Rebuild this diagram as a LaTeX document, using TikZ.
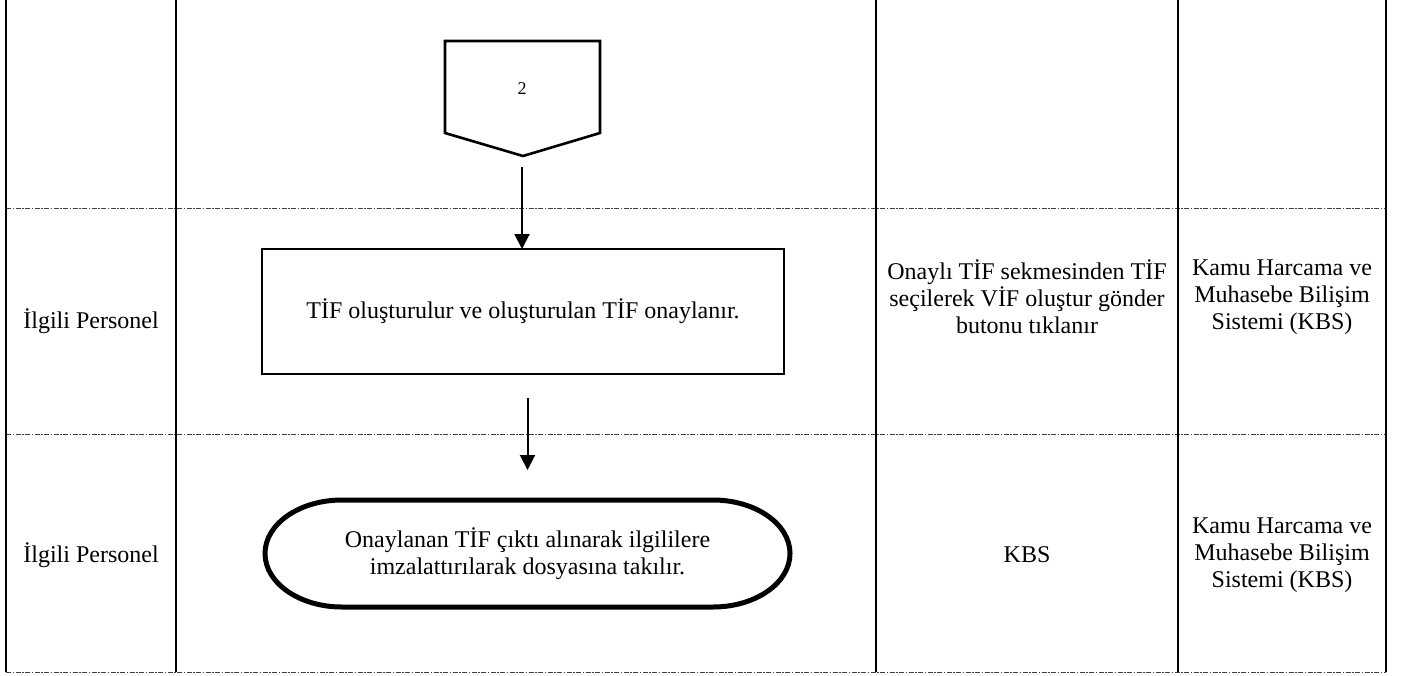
\documentclass[tikz,border=0pt]{standalone}
\usepackage{fontspec}
\setmainfont{Liberation Serif}
\usetikzlibrary{arrows.meta,calc}
\begin{document}
\begin{tikzpicture}[x=1pt,y=-1pt,
  lane/.style={line width=2.8pt},
  sep/.style={line width=1pt, black!75, dash pattern=on 5pt off 1.5pt on 1.5pt off 1.5pt},
  lbl/.style={font=\fontsize{24}{27}\selectfont, align=center, inner sep=0pt, outer sep=0pt},
  procbox/.style={draw, line width=2.8pt, minimum width=522pt, minimum height=125pt, lbl},
  flow/.style={line width=2pt, -{Triangle[width=15pt,length=15pt]}},
]
\useasboundingbox (0,0) rectangle (1404,675);

% table lines
\draw[sep] (6,208) -- (1386,208);
\draw[sep] (6,434) -- (1386,434);
\draw[sep] (6,672) -- (1386,672);
\foreach \x in {6,176,876,1178,1386} \draw[lane] (\x,0) -- (\x,672);

% off-page connector
\draw[line width=2.6pt, line join=miter] (445,41) -- (600,41) -- (600,133) -- (523,156) -- (445,133) -- cycle;
\node[font=\fontsize{18}{20}\selectfont] (conn) at (522,89) {2};
\coordinate (conntip) at (522,156);

% process box
\node[procbox] (proc) at (523,311.5) {TİF oluşturulur ve oluşturulan TİF onaylanır.};

% terminator
\node[lbl, minimum width=525pt, minimum height=107pt] (term) at (527.5,553.5)
  {Onaylanan TİF çıktı alınarak ilgililere\\imzalattırılarak dosyasına takılır.};
\draw[line width=5pt]
  ($(term.north west)+(77,0)$) -- ++(371,0)
  arc[start angle=90, end angle=-90, x radius=77pt, y radius=53.5pt]
  -- ++(-371,0)
  arc[start angle=270, end angle=90, x radius=77pt, y radius=53.5pt] -- cycle;

% connectors
\draw[flow, shorten <=11pt] (conntip) -- (conntip |- proc.north);
\draw[flow, shorten <=24pt, shorten >=30pt] (proc.south -| term.north) -- (term.north);

% lane texts
\node[lbl] (r1role) at (91,321) {İlgili Personel};
\node[lbl] (r2role) at (91,555) {İlgili Personel};
\node[lbl] (r1how) at (1027,297) {Onaylı TİF sekmesinden TİF\\seçilerek VİF oluştur gönder\\butonu tıklanır};
\node[lbl] (r1sys) at (1282,297) {Kamu Harcama ve\\Muhasebe Bilişim\\Sistemi (KBS)};
\node[lbl] (r2how) at (1027,555) {KBS};
\node[lbl] (r2sys) at (1282,555) {Kamu Harcama ve\\Muhasebe Bilişim\\Sistemi (KBS)};
\end{tikzpicture}
\end{document}
